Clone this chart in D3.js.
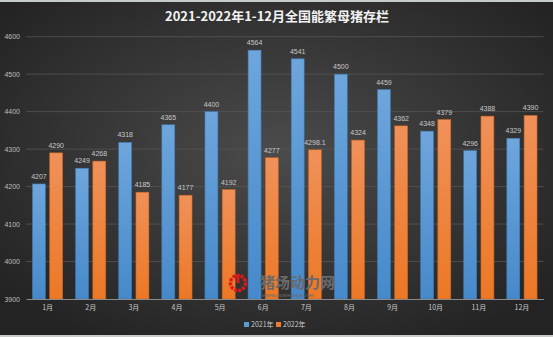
<!DOCTYPE html>
<html><head><meta charset="utf-8">
<script src="https://cdn.jsdelivr.net/npm/d3@7"></script>
<style>html,body{margin:0;padding:0;background:#2a2a2a;}svg{display:block;}</style>
</head><body>
<script>
const months = ["1月","2月","3月","4月","5月","6月","7月","8月","9月","10月","11月","12月"];
const series2021 = [4207,4249,4318,4365,4400,4564,4541,4500,4459,4348,4296,4329];
const series2022 = [4290,4268,4185,4177,4192,4277,4298.1,4324,4362,4379,4388,4390];
const seriesNames = ["2021年","2022年"];
const yTicks = [3900,4000,4100,4200,4300,4400,4500,4600];
const title = "2021-2022年1-12月全国能繁母猪存栏";

const W=553,H=337;
const svg=d3.select("body").append("svg").attr("width",W).attr("height",H);
const defs=svg.append("defs");
const bg=defs.append("radialGradient").attr("id","bg").attr("cx","50%").attr("cy","45%").attr("r","65%");
bg.append("stop").attr("offset","0%").attr("stop-color","#4b4b4b");
bg.append("stop").attr("offset","100%").attr("stop-color","#232323");
const gb=defs.append("linearGradient").attr("id","gb").attr("x1",0).attr("y1",0).attr("x2",0).attr("y2",1);
gb.append("stop").attr("offset","0%").attr("stop-color","#6ea6dc");
gb.append("stop").attr("offset","100%").attr("stop-color","#4689ca");
const go=defs.append("linearGradient").attr("id","go").attr("x1",0).attr("y1",0).attr("x2",0).attr("y2",1);
go.append("stop").attr("offset","0%").attr("stop-color","#f0915a");
go.append("stop").attr("offset","100%").attr("stop-color","#ec7825");

svg.append("rect").attr("width",W).attr("height",H).attr("fill","url(#bg)");
svg.append("rect").attr("x",0).attr("y",0).attr("width",W).attr("height",2).attr("fill","#c8ccc8");
svg.append("rect").attr("x",0).attr("y",H-2).attr("width",W).attr("height",2).attr("fill","#c8ccc8");

const m={l:26,r:9.5,t:36.7,b:38};
const x=d3.scaleBand().domain(months).range([m.l,W-m.r]).paddingInner(0.3).paddingOuter(0.15);
const y=d3.scaleLinear().domain([3900,4600]).range([H-m.b,m.t]);
const xs=d3.scaleBand().domain(seriesNames).range([0,x.bandwidth()]).paddingInner(0.25);

// gridlines
svg.append("g").selectAll("line").data(yTicks.slice(1)).join("line")
 .attr("x1",m.l).attr("x2",W-m.r).attr("y1",d=>y(d)).attr("y2",d=>y(d))
 .attr("stroke","#555").attr("stroke-width",0.8);

// y axis labels
const yAxis=d3.axisLeft(y).tickValues(yTicks).tickSize(0).tickPadding(6).tickFormat(d3.format("d"));
const ya=svg.append("g").attr("transform",`translate(${m.l},0)`).call(yAxis);
ya.select(".domain").remove();
ya.selectAll("text").attr("fill","#bdbdbd").attr("font-size",7).attr("font-family","Liberation Sans, Arial, sans-serif");

const data=months.map((mo,i)=>({mo,vals:[series2021[i],series2022[i]]}));
const fills=["url(#gb)","url(#go)"], strokes=["#3f79b3","#c96520"];
const g=svg.append("g").selectAll("g").data(data).join("g").attr("transform",d=>`translate(${x(d.mo)},0)`);
g.selectAll("rect").data(d=>d.vals.map((v,k)=>({v,k}))).join("rect")
 .attr("x",d=>xs(seriesNames[d.k])).attr("width",xs.bandwidth())
 .attr("y",d=>y(d.v)).attr("height",d=>y(3900)-y(d.v))
 .attr("fill",d=>fills[d.k]).attr("stroke",d=>strokes[d.k]).attr("stroke-width",0.6);
g.selectAll("text").data(d=>d.vals.map((v,k)=>({v,k}))).join("text")
 .attr("x",d=>xs(seriesNames[d.k])+xs.bandwidth()/2).attr("y",d=>y(d.v)-5)
 .attr("text-anchor","middle").attr("fill","#c8c8c8").attr("font-size",7)
 .attr("font-family","Liberation Sans, Arial, sans-serif").text(d=>d.v);

// x axis
const xAxis=d3.axisBottom(x).tickSize(0).tickPadding(6);
const xa=svg.append("g").attr("transform",`translate(0,${y(3900)})`).call(xAxis);
xa.select(".domain").attr("stroke","#8a8a8a").attr("stroke-width",1);
xa.selectAll("text").attr("fill","#c8c8c8").attr("font-size",7).attr("font-family","Noto Sans CJK SC, sans-serif");

// watermark
const wm=svg.append("g");
wm.append("circle").attr("cx",238).attr("cy",283).attr("r",7.5).attr("fill","none").attr("stroke","#e01818").attr("stroke-width",3.5).attr("stroke-dasharray","3 1.2");
wm.append("rect").attr("x",236.5).attr("y",274).attr("width",3).attr("height",9).attr("fill","#e01818");
wm.append("text").attr("x",260).attr("y",288).attr("fill","#6a6a6a").attr("font-size",15).attr("font-family","Noto Sans CJK SC, sans-serif").attr("font-weight","bold").text("猪场动力网");
wm.append("text").attr("x",262).attr("y",297).attr("fill","#6a6a6a").attr("font-size",6).attr("font-family","Liberation Sans, Arial, sans-serif").text("www.powerpigs.net");

// title
svg.append("text").attr("x",277).attr("y",21).attr("text-anchor","middle").attr("fill","#f2f2f2")
 .attr("font-size",13).attr("font-weight","bold").attr("font-family","Noto Sans CJK SC, sans-serif").text(title);

// legend
const lg=svg.append("g").attr("transform","translate(244,325)");
const colors=["#5b9bd5","#ed7d31"];
seriesNames.forEach((n,i)=>{
 const gg=lg.append("g").attr("transform",`translate(${i*32},0)`);
 gg.append("rect").attr("x",0).attr("y",-3).attr("width",5).attr("height",5).attr("fill",colors[i]);
 gg.append("text").attr("x",7).attr("y",2).attr("fill","#c8c8c8").attr("font-size",7).attr("font-family","Noto Sans CJK SC, sans-serif").text(n);
});
</script>
</body></html>
